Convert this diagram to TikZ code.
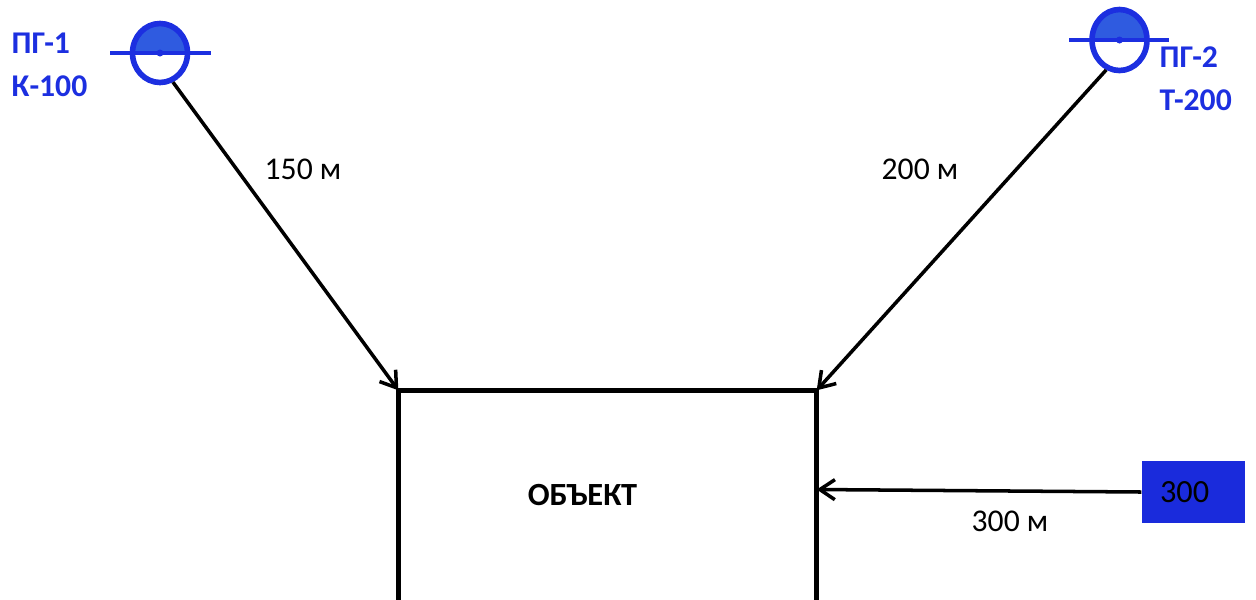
\documentclass[tikz,border=0pt]{standalone}
\usepackage{fontspec}
\setmainfont{Carlito}
\usetikzlibrary{shapes.geometric, arrows.meta, positioning}
\definecolor{pgBlue}{HTML}{1C2FE0}
\definecolor{pgFill}{HTML}{2F5BE0}
\definecolor{feedBlue}{HTML}{1A2BDC}

\begin{document}
\begin{tikzpicture}[
  pg/.style={ellipse, draw=pgBlue, line width=1.6pt, fill=white, inner sep=0pt, path picture={\fill[pgFill] (path picture bounding box.west) rectangle (path picture bounding box.north east);}},
  pgbar/.style={draw=pgBlue, line width=1.35pt},
  pglabel/.style={font=\fontsize{9}{12.2}\selectfont\bfseries, text=pgBlue, align=left, inner sep=0pt},
  object/.style={minimum width=4.17cm, minimum height=2.08cm, inner sep=0pt},
  objline/.style={draw=black, line width=1.4pt},
  objlabel/.style={font=\fontsize{9.2}{11}\selectfont\bfseries, inner sep=0pt},
  feed/.style={fill=feedBlue, minimum height=0.62cm, inner xsep=0.18cm, inner ysep=0pt, text width=0.67cm, align=left, font=\fontsize{9.2}{11}\selectfont},
  link/.style={draw=black, line width=1pt, -{Straight Barb[length=1.5mm, width=2mm]}},
  dist/.style={font=\fontsize{9}{11}\selectfont, inner sep=0pt},
]
  \useasboundingbox (0, 0) rectangle (12.56, 5.99);

  % Sources
  \node[pg, minimum width=0.55cm, minimum height=0.59cm] (pg1) at (1.60, 5.46) {};
  \node[pg, minimum width=0.55cm, minimum height=0.61cm] (pg2) at (11.195, 5.59) {};
  \draw[pgbar] ([xshift=-0.50cm]pg1.center) -- ([xshift=0.51cm]pg1.center);
  \draw[pgbar] ([xshift=-0.505cm]pg2.center) -- ([xshift=0.495cm]pg2.center);
  \fill[pgBlue] (pg1.center) circle (0.035);
  \fill[pgBlue] (pg2.center) circle (0.035);

  % Object
  \node[object] (obj) at (6.075, 1.04) {};
  \draw[objline] (obj.south west) -- (obj.north west) -- (obj.north east) -- (obj.south east);
  \node[objlabel] (objtext) at (5.825, 1.045) {ОБЪЕКТ};

  % Feed
  \node[feed] (feed) at (11.935, 1.07) {300};

  % Links
  \draw[link] (pg1.-66) -- (obj.north west);
  \draw[link] (pg2.-114) -- (obj.north east);
  \draw[link] (feed.west) -- ([yshift=0.055cm]obj.east);

  % Labels
  \node[pglabel, anchor=west] (lab1) at (0.11, 5.345) {ПГ-1\\К-100};
  \node[pglabel, anchor=west] (lab2) at (11.59, 5.205) {ПГ-2\\Т-200};
  \node[dist] (d1) at (3.03, 4.30) {150 м};
  \node[dist] (d2) at (9.20, 4.30) {200 м};
  \node[dist] (d3) at (10.10, 0.78) {300 м};
\end{tikzpicture}
\end{document}
